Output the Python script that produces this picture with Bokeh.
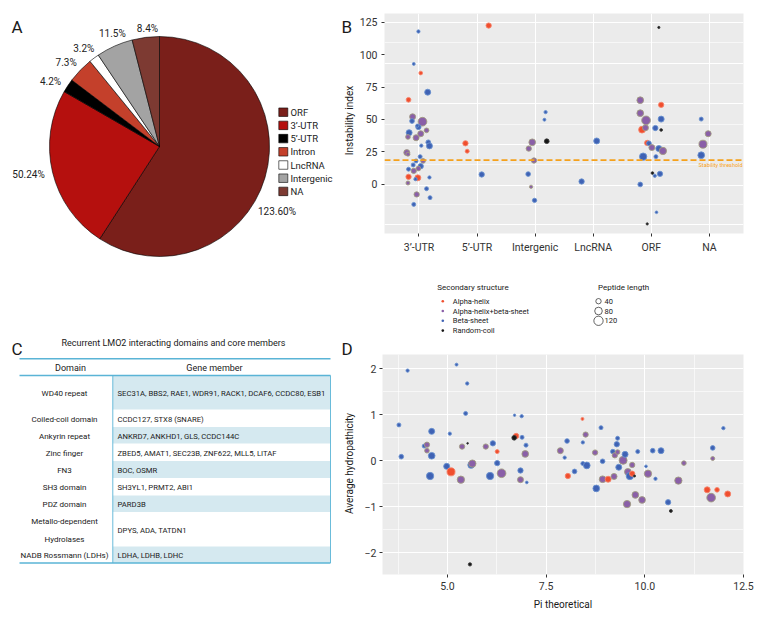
import math
from bokeh.plotting import figure
from bokeh.models import Range1d, FixedTicker, ColumnDataSource, Span, Label, PrintfTickFormatter
from bokeh.layouts import column, row
from bokeh.embed import file_html
from bokeh.resources import INLINE
from bokeh.core.properties import value

FONT = "Roboto"

# ======================= DATA =======================
# Panel A: slice shares (as drawn) and printed labels
pie_categories = ["ORF", "3’-UTR", "5’-UTR", "Intron", "LncRNA", "Intergenic", "NA"]
pie_shares = [59.2, 24.2, 2.0, 3.8, 1.5, 5.4, 4.0]
pie_labels = ["123.60%", "50.24%", "4.2%", "7.3%", "3.2%", "11.5%", "8.4%"]

# Panel B: instability index by region (jitter = horizontal offset)
b_regions = ["3’-UTR", "5’-UTR", "Intergenic", "LncRNA", "ORF", "NA"]
structure_names = {"A": "Alpha-helix", "P": "Alpha-helix+beta-sheet", "B": "Beta-sheet", "R": "Random-coil"}
structure_order = ["A", "P", "B", "R"]

utr3_instability = [117.9, 92.8, 85.8, 71.0, 65.1, 52.0, 48.7, 48.2, 44.1, 39.7, 41.5, 35.8, 38.9, 36.4,
                    32.3, 29.5, 29.7, 24.3, 23.1, 21.2, 17.9, 17.9, 14.8, 13.8, 11.5, 10.2, 12.0, 5.6,
                    4.8, 3.8, 5.1, 0.8, -8.0, -3.6, -10.5, -15.7, 45.1]
utr3_jitter = [-0.01, -0.09, 0.03, 0.15, -0.18, -0.11, -0.12, 0.06, -0.01, -0.17, 0.13, -0.05, 0.03, -0.19,
               0.16, 0.18, 0.04, -0.21, -0.19, 0.02, 0.07, -0.05, -0.10, 0.03, -0.18, -0.09, -0.01, -0.18,
               -0.02, -0.06, 0.18, -0.19, -0.04, 0.13, 0.19, -0.09, -0.03]
utr3_structure = "BBABAPBPBBPPPPBBBPPBPBBBBPPAABBPPBBBB"
utr3_length = [15, 12, 19, 50, 31, 50, 31, 105, 39, 50, 31, 50, 50, 31, 31, 50, 15, 50, 22, 22, 31, 22, 22,
               39, 22, 39, 31, 39, 50, 15, 15, 22, 39, 22, 22, 22, 15]

utr5_instability = [122.5, 31.5, 25.4, 7.4]
utr5_jitter = [0.20, -0.20, -0.17, 0.08]
utr5_structure = "AAAB"
utr5_length = [39, 39, 22, 39]

intergenic_instability = [55.6, 49.7, 32.3, 33.1, 27.4, 18.2, 7.7, -2.1, -12.6]
intergenic_jitter = [0.18, 0.16, -0.05, 0.20, -0.11, -0.02, -0.12, -0.07, -0.01]
intergenic_structure = "BBPRPPBPB"
intergenic_length = [15, 12, 62, 31, 39, 39, 31, 15, 26]

lnc_instability = [33.3, 2.0]
lnc_jitter = [0.06, -0.20]
lnc_structure = "BB"
lnc_length = [50, 39]

orf_instability = [121.0, 64.8, 61.2, 54.8, 49.2, 50.2, 42.0, 43.5, 43.3, 41.8, 31.8, 31.5, 28.2, 27.4,
                   25.6, 21.2, 21.2, 8.5, 6.4, 7.9, -0.3, -21.8, -30.8]
orf_jitter = [0.13, -0.19, 0.17, -0.19, -0.09, 0.17, -0.16, -0.10, 0.07, 0.17, -0.07, -0.04, 0.01, 0.13,
              0.20, -0.14, 0.08, 0.02, 0.06, 0.15, -0.19, 0.09, -0.07]
orf_structure = "RPAPPBAPBRABPBPBBRBBBBR"
orf_length = [7, 62, 39, 62, 105, 50, 62, 50, 39, 10, 39, 31, 50, 50, 74, 74, 22, 10, 15, 39, 31, 10, 7]

na_instability = [50.2, 38.9, 30.8, 22.3]
na_jitter = [-0.14, -0.02, -0.11, -0.14]
na_structure = "BPPB"
na_length = [22, 50, 89, 62]

b_threshold = 18.5
b_yticks = [0, 25, 50, 75, 100, 125]
legend_lengths = [40, 80, 120]

# Panel C: table
c_title = "Recurrent LMO2 interacting domains and core members"
c_header = ["Domain", "Gene member"]
c_domains = ["WD40 repeat", "Coiled-coil domain", "Ankyrin repeat", "Zinc finger", "FN3", "SH3 domain",
             "PDZ domain", "Metallo-dependent\nHydrolases", "NADB Rossmann (LDHs)"]
c_genes = ["SEC31A, BBS2, RAE1, WDR91, RACK1, DCAF6, CCDC80, ESB1", "CCDC127, STX8 (SNARE)",
           "ANKRD7, ANKHD1, GLS, CCDC144C", "ZBED5, AMAT1, SEC23B, ZNF622, MLL5, LITAF", "BOC, OSMR",
           "SH3YL1, PRMT2, ABI1", "PARD3B", "DPYS, ADA, TATDN1", "LDHA, LDHB, LDHC"]

# Panel D: pI vs GRAVY
d_pi = [3.99, 5.23, 5.50, 5.46, 3.77, 5.06, 4.60, 4.41, 4.48, 4.48,
        3.83, 4.60, 4.98, 4.56, 5.09, 5.34, 5.37, 5.51, 5.60, 5.63,
        5.97, 6.15, 6.26, 6.26, 6.08, 6.37, 5.57, 6.70, 6.88, 6.74,
        6.69, 6.89, 6.99, 6.97, 6.85, 6.85, 7.01, 7.86, 7.97, 8.03,
        8.05, 8.22, 8.42, 8.43, 8.50, 8.43, 8.53, 8.74, 8.77, 8.89,
        8.93, 8.93, 9.07, 9.19, 9.24, 9.31, 9.31, 9.29, 9.22, 9.34,
        9.45, 9.50, 9.57, 9.62, 9.68, 9.68, 9.74, 9.82, 9.55, 9.76,
        9.93, 10.03, 10.08, 10.20, 10.27, 10.41, 10.59, 10.66, 10.85, 10.99,
        11.58, 11.83, 11.68, 12.10, 11.72, 11.72, 11.99]
d_gravy = [1.96, 2.09, 1.68, 1.03, 0.78, 0.59, 0.64, 0.32, 0.35, 0.22,
           0.09, 0.11, -0.12, -0.33, -0.24, -0.41, 0.31, 0.38, -0.09, -0.06,
           0.31, 0.38, 0.20, -0.05, -0.33, -0.27, -2.25, 0.99, 0.97, 0.54,
           0.50, 0.51, 0.34, 0.15, -0.21, -0.41, -0.47, 0.22, 0.07, 0.43,
           -0.33, -0.23, 0.91, 0.40, 0.57, -0.06, -0.10, 0.18, -0.60, 0.72,
           -0.01, -0.40, -0.40, 0.20, 0.12, 0.19, 0.49, 0.36, -0.34, -0.14,
           0.01, 0.14, -0.24, -0.33, -0.28, -0.09, -0.33, 0.20, -0.94, -0.74,
           -0.85, -0.12, -0.28, 0.22, -0.39, 0.22, -0.90, -1.09, -0.43, -0.05,
           -0.63, -0.63, -0.80, -0.72, 0.28, 0.05, 0.71]
d_structure = ("BBBBBBBBPP" "BBBBAPPRBP" "PBABBPRBBA" "RBBPBPBPBB" "ABABPBBPBB"
               "BPABPPBBPB" "PBPBAPRBPP" "PBPBBBBRPP" "AAPABPB")
d_length = [15, 12, 15, 22, 22, 15, 50, 22, 39, 30,
            30, 62, 50, 74, 89, 74, 39, 4, 62, 74,
            39, 39, 22, 39, 74, 104, 15, 8, 15, 39,
            30, 22, 22, 62, 39, 50, 10, 50, 15, 30,
            39, 30, 12, 15, 39, 22, 62, 39, 62, 22,
            30, 62, 50, 30, 39, 30, 22, 39, 50, 50,
            89, 50, 62, 74, 39, 39, 6, 22, 74, 62,
            62, 10, 74, 30, 15, 50, 39, 12, 74, 30,
            50, 30, 104, 50, 30, 22, 15]

# ======================= STYLE =======================
pie_colors = ["#7A1F1A", "#B5100E", "#000000", "#C4402B", "#FFFFFF", "#A3A3A3", "#7D3A32"]
pie_label_nudge_deg = [-17, 0, 0, -1.5, -3, -7.5, -6.5]
struct_fill = {"A": "#F04E2E", "P": "#8A5FA8", "B": "#3F62B4", "R": "#151515"}
struct_edge = {"A": "#F5836B", "P": "#A09C80", "B": "#6A92CF", "R": "#3A3A3A"}
PANEL_BG = "#EBEBEB"
TABLE_LINE = "#5AB4D6"
TABLE_FILL = "#D5E9F0"
TXT = "#1A1A1A"


def dot_size(length):
    return 0.85 * math.sqrt(length)


def base_fig(**kw):
    p = figure(output_backend="svg", toolbar_location=None, **kw)
    try:
        p.frame_align = False
    except Exception:
        pass
    return p


def blank_fig(w, h):
    p = base_fig(width=w, height=h, x_range=Range1d(0, w), y_range=Range1d(0, h),
                 x_axis_location=None, y_axis_location=None, min_border=0)
    p.grid.visible = False
    p.outline_line_color = None
    return p


def style_axes(p, tick_standoff):
    for ax in p.axis:
        ax.axis_line_color = None
        ax.major_tick_line_color = "#333333"
        ax.major_tick_out = 3
        ax.major_tick_in = 0
        ax.minor_tick_line_color = None
        ax.major_label_text_font = FONT
        ax.major_label_text_font_size = "10.5px"
        ax.major_label_text_color = "#333333"
        ax.axis_label_text_font = FONT
        ax.axis_label_text_font_size = "10px"
        ax.axis_label_text_font_style = "normal"
        ax.axis_label_text_color = TXT
        ax.major_label_standoff = tick_standoff
    p.xaxis.axis_label_standoff = 6
    p.grid.grid_line_color = "white"
    p.grid.grid_line_width = 1
    p.background_fill_color = PANEL_BG
    p.outline_line_color = None


def txt(p, x, y, text, size, align="left", baseline="middle", angle=0.0, color=TXT, **kw):
    p.text(x=x, y=y, text=text, text_align=align, text_baseline=baseline, angle=angle,
           text_font=value(FONT), text_font_size=size, text_color=color, **kw)


# ======================= PANEL A (canvas x 0..356, y 0..280) =======================
W_LEFT = 356
pA = blank_fig(W_LEFT, 280)
cx, cy, R = 159, 134, 110
total = sum(pie_shares)
starts, ends, mids = [], [], []
acc = 0.0
for s in pie_shares:
    a0 = 90 - acc / total * 360
    acc += s
    a1 = 90 - acc / total * 360
    starts.append(math.radians(a0))
    ends.append(math.radians(a1))
    mids.append((a0 + a1) / 2)
pA.wedge(x=cx, y=cy, radius=R, start_angle="start", end_angle="end", direction="clock",
         fill_color="color", line_color="black", line_width=0.6,
         source=ColumnDataSource(dict(start=starts, end=ends, color=pie_colors)))
for side in ("left", "right"):
    xs, ys, ts = [], [], []
    for m, nud, lab in zip(mids, pie_label_nudge_deg, pie_labels):
        a = math.radians(m + nud)
        if ("left" if math.cos(a) > 0.05 else "right") == side:
            xs.append(cx + 118 * math.cos(a))
            ys.append(cy + 118 * math.sin(a))
            ts.append(lab)
    txt(pA, xs, ys, ts, "10px", align=side, color="#222222")
leg_y = [280 - (111.7 + 13.2 * i) for i in range(len(pie_categories))]
pA.rect(x=282.8, y=leg_y, width=9, height=8.5, fill_color=pie_colors, line_color="black", line_width=0.6)
txt(pA, 290, leg_y, pie_categories, "9.5px", color="#222222")
txt(pA, [11], [254], ["A"], "17px", baseline="alphabetic")
# panel letter B and y-axis title of panel B (left margin of B)
txt(pA, [341], [254], ["B"], "17px", baseline="alphabetic")
txt(pA, [349], [160], ["Instability index"], "10px", align="center", angle=math.pi / 2)

# ======================= PANEL B =======================
pB = base_fig(width=768 - W_LEFT, height=280, x_range=Range1d(0.406, 6.588), y_range=Range1d(-38.2, 131.8),
              min_border_left=382 - W_LEFT, min_border_right=25, min_border_top=13, min_border_bottom=47)
style_axes(pB, tick_standoff=4)
pB.xaxis.ticker = FixedTicker(ticks=[1, 2, 3, 4, 5, 6])
pB.xaxis.major_label_overrides = {i + 1: name for i, name in enumerate(b_regions)}
pB.yaxis.ticker = FixedTicker(ticks=b_yticks)
pB.xgrid.ticker = FixedTicker(ticks=[1, 2, 3, 4, 5, 6])
pB.ygrid.ticker = FixedTicker(ticks=[125, 93.5, 62, 30.8, -0.8, -31.3],
                              minor_ticks=[109.3, 77.8, 46.4, 15, -16.1])
pB.ygrid.minor_grid_line_color = "white"
pB.ygrid.minor_grid_line_width = 0.6

region_series = [
    (utr3_instability, utr3_jitter, utr3_structure, utr3_length),
    (utr5_instability, utr5_jitter, utr5_structure, utr5_length),
    (intergenic_instability, intergenic_jitter, intergenic_structure, intergenic_length),
    (lnc_instability, lnc_jitter, lnc_structure, lnc_length),
    (orf_instability, orf_jitter, orf_structure, orf_length),
    (na_instability, na_jitter, na_structure, na_length),
]
bx, by, bf, be, bs = [], [], [], [], []
for i, (yv, jv, sv, lv) in enumerate(region_series):
    for yy, jj, ss, ll in zip(yv, jv, sv, lv):
        bx.append(i + 1 + jj)
        by.append(yy)
        bf.append(struct_fill[ss])
        be.append(struct_edge[ss])
        bs.append(dot_size(ll))
pB.scatter(x="x", y="y", size="s", fill_color="f", line_color="e", line_width=0.9,
           source=ColumnDataSource(dict(x=bx, y=by, f=bf, e=be, s=bs)))
pB.add_layout(Span(location=b_threshold, dimension="width", line_color="#F5A11C",
                   line_dash="6 3", line_width=1.8))
pB.add_layout(Label(x=6.588, y=b_threshold, text="Stability threshold", text_align="right",
                    text_baseline="top", x_offset=-1, y_offset=-2, text_font=FONT,
                    text_font_size="5.5px", text_color="#F5A11C"))

# ======================= LEGEND STRIP for B (canvas y 280..335) =======================
pL = blank_fig(768, 55)
item_y = [335 - (300.7 + 9.8 * i) for i in range(len(structure_order))]
txt(pL, [436.7, 597.5], [335 - 286.7] * 2, ["Secondary structure", "Peptide length"], "8px")
pL.scatter(x=442.3, y=item_y, size=2.6, fill_color=[struct_fill[c] for c in structure_order], line_color=None)
txt(pL, 452.3, item_y, [structure_names[c] for c in structure_order], "7.5px", color="#222222")
len_y = item_y[:len(legend_lengths)]
pL.scatter(x=598, y=len_y, size=[dot_size(v) for v in legend_lengths], fill_color=None,
           line_color="#222222", line_width=0.7)
txt(pL, 604, len_y, [str(v) for v in legend_lengths], "7.5px", color="#222222")

# ======================= PANEL C (canvas y 335..624) =======================
pC = blank_fig(W_LEFT, 289)
row_heights = [34, 17.5, 16.5, 17.5, 17, 17.5, 16.5, 34.5, 16.5]
t_left, t_div, t_right = 19, 112.3, 330
top_line, head_line = 624 - 358.3, 624 - 375
tops, bots = [], []
yy = head_line
for h in row_heights:
    tops.append(yy)
    yy -= h
    bots.append(yy)
shade = [i % 2 == 0 for i in range(len(row_heights))]
pC.quad(left=t_div, right=t_right, top=[t for t, s in zip(tops, shade) if s],
        bottom=[b for b, s in zip(bots, shade) if s], fill_color=TABLE_FILL, line_color=None)
pC.segment(x0=[t_left] * 3, x1=[t_right] * 3, y0=[top_line, head_line, bots[-1]],
           y1=[top_line, head_line, bots[-1]], line_color=TABLE_LINE, line_width=1.4)
pC.segment(x0=[t_div, t_right], x1=[t_div, t_right], y0=[head_line] * 2, y1=[bots[-1]] * 2,
           line_color=TABLE_LINE, line_width=0.9)
centers = [(t + b) / 2 - 1 for t, b in zip(tops, bots)]
txt(pC, 64, centers, c_domains, "8px", align="center", text_line_height=1.95)
txt(pC, 117, centers, c_genes, "7.7px")
txt(pC, [70, 214], [624 - 367] * 2, c_header, "9px", align="center")
txt(pC, [173], [624 - 342], [c_title], "9px", align="center")
txt(pC, [11], [624 - 348], ["C"], "17px", baseline="alphabetic")
txt(pC, [341], [624 - 348], ["D"], "17px", baseline="alphabetic")
txt(pC, [349], [624 - 463], ["Average hydropathicity"], "10px", align="center", angle=math.pi / 2)

# ======================= PANEL D =======================
pD = base_fig(width=768 - W_LEFT, height=289, x_range=Range1d(3.354, 12.5), y_range=Range1d(-2.47, 2.31),
              min_border_left=382 - W_LEFT, min_border_right=25, min_border_top=19, min_border_bottom=50)
style_axes(pD, tick_standoff=2)
pD.xaxis.ticker = FixedTicker(ticks=[5, 7.5, 10, 12.5], minor_ticks=[3.75, 6.25, 8.75, 11.25])
pD.xaxis.formatter = PrintfTickFormatter(format="%.1f")
pD.xaxis.major_label_standoff = 3
pD.yaxis.ticker = FixedTicker(ticks=[-2, -1, 0, 1, 2], minor_ticks=[-1.5, -0.5, 0.5, 1.5])
pD.yaxis.major_label_overrides = {-2: "−2", -1: "−1"}
pD.xaxis.axis_label = "Pi theoretical"
pD.grid.minor_grid_line_color = "white"
pD.grid.minor_grid_line_width = 0.6
pD.scatter(x="x", y="y", size="s", fill_color="f", line_color="e", line_width=0.9,
           source=ColumnDataSource(dict(x=d_pi, y=d_gravy,
                                        f=[struct_fill[c] for c in d_structure],
                                        e=[struct_edge[c] for c in d_structure],
                                        s=[dot_size(v) for v in d_length])))

layout = column(row(pA, pB), pL, row(pC, pD))
open("out.html", "w").write(file_html(layout, INLINE))
